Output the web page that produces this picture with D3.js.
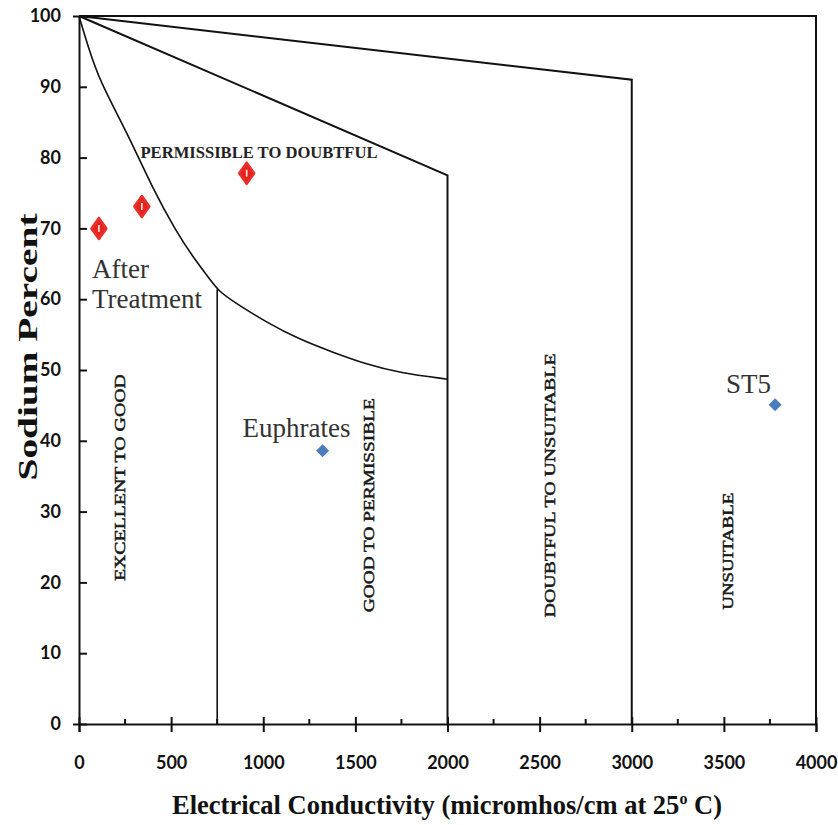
<!DOCTYPE html>
<html>
<head>
<meta charset="utf-8">
<script src="https://cdn.jsdelivr.net/npm/d3@7/dist/d3.min.js"></script>
<style>
  html, body { margin: 0; padding: 0; background: #fff; }
  svg { display: block; }
</style>
</head>
<body>
<svg id="chart" width="838" height="825"></svg>
<script>
// Axis ticks
const xTicks = [0, 500, 1000, 1500, 2000, 2500, 3000, 3500, 4000];
const xMinorTicks = [250, 750, 1250, 1750, 2250, 2750, 3250, 3750];
const yTicks = [0, 10, 20, 30, 40, 50, 60, 70, 80, 90, 100];

// Wilcox class boundaries (EC in micromhos/cm, sodium in %)
const unsuitableEC = [0, 3000, 3000];
const unsuitableNa = [100, 91, 0];
const doubtfulEC = [0, 2000, 2000];
const doubtfulNa = [100, 77.5, 0];
const permissibleEC = [0, 50, 114, 260, 400, 531, 618, 710, 764, 836, 1019, 1198, 1378, 1561, 1740, 2000];
const permissibleNa = [100, 95.6, 90.7, 83.6, 75.6, 69.4, 66.0, 62.8, 61.0, 59.7, 56.7, 54.3, 52.5, 50.8, 49.6, 48.7];
const goodEC = [750, 750];
const goodNa = [61.4, 0];

// Class names and where they sit (data units)
const zoneNames = ["EXCELLENT TO GOOD", "GOOD TO PERMISSIBLE", "DOUBTFUL TO UNSUITABLE", "UNSUITABLE"];
const zoneEC = [220, 1573, 2555, 3525];
const zoneNa = [34.8, 30.9, 33.7, 24.4];

// Samples after treatment
const treatedEC = [108, 341, 910];
const treatedNa = [70.0, 73.1, 77.8];

// Raw water sources
const sourceNames = ["Euphrates", "ST5"];
const sourceEC = [1322, 3778];
const sourceNa = [38.6, 45.1];

const svg = d3.select("#chart");
const margin = { left: 79, top: 16, right: 22, bottom: 101 };
const W = 838, H = 825;

const x = d3.scaleLinear().domain([0, 4000]).range([margin.left, W - margin.right]);
const y = d3.scaleLinear().domain([0, 100]).range([H - margin.bottom, margin.top]);

const serif = "'Liberation Serif', 'Times New Roman', serif";
const sans = "Lato, 'Open Sans', sans-serif";

// Frame: top and right edges
svg.append("path")
  .attr("d", `M${x(0)},${y(100)}H${x(4000)}V${y(0)}`)
  .attr("fill", "none").attr("stroke", "#111").attr("stroke-width", 2);

// Boundaries
const zip = (a, b) => a.map((v, i) => [v, b[i]]);
const straight = d3.line().x(d => x(d[0])).y(d => y(d[1]));
const smooth = d3.line().x(d => x(d[0])).y(d => y(d[1])).curve(d3.curveBasis);

svg.append("path").datum(zip(unsuitableEC, unsuitableNa))
  .attr("d", straight).attr("fill", "none").attr("stroke", "#111").attr("stroke-width", 2);
svg.append("path").datum(zip(doubtfulEC, doubtfulNa))
  .attr("d", straight).attr("fill", "none").attr("stroke", "#111").attr("stroke-width", 2);
svg.append("path").datum(zip(permissibleEC, permissibleNa))
  .attr("d", smooth).attr("fill", "none").attr("stroke", "#111").attr("stroke-width", 1.6);
svg.append("path").datum(zip(goodEC, goodNa))
  .attr("d", straight).attr("fill", "none").attr("stroke", "#111").attr("stroke-width", 1.6);

// X axis
const xAxis = svg.append("g").attr("transform", `translate(0,${y(0)})`)
  .call(d3.axisBottom(x).tickValues(xTicks).tickSize(8).tickPadding(24).tickFormat(d3.format("d")));
xAxis.select(".domain").attr("stroke", "#111").attr("stroke-width", 2);
xAxis.selectAll(".tick line").attr("y1", -7).attr("stroke", "#111").attr("stroke-width", 2);
xAxis.selectAll(".tick text").attr("font-family", sans).attr("font-weight", "bold")
  .attr("font-size", 18).attr("fill", "#111");
xAxis.selectAll(".minor").data(xMinorTicks).enter().append("line")
  .attr("x1", d => x(d)).attr("x2", d => x(d)).attr("y1", -5).attr("y2", 0)
  .attr("stroke", "#111").attr("stroke-width", 2);

// Y axis
const yAxis = svg.append("g").attr("transform", `translate(${x(0)},0)`)
  .call(d3.axisLeft(y).tickValues(yTicks).tickSize(6).tickPadding(12).tickFormat(d3.format("d")));
yAxis.select(".domain").attr("stroke", "#111").attr("stroke-width", 2);
yAxis.selectAll(".tick line").attr("x2", 8).attr("stroke", "#111").attr("stroke-width", 2);
yAxis.selectAll(".tick text").attr("font-family", sans).attr("font-weight", "bold")
  .attr("font-size", 18).attr("fill", "#111");

// Axis titles
const xt = svg.append("text")
  .attr("x", 447).attr("y", 814).attr("text-anchor", "middle")
  .attr("font-family", serif).attr("font-weight", "bold").attr("font-size", 26.5).attr("fill", "#111");
xt.append("tspan").text("Electrical Conductivity (micromhos/cm at 25");
xt.append("tspan").attr("font-size", 16).attr("dy", -10).text("o");
xt.append("tspan").attr("dy", 10).text(" C)");

svg.append("text")
  .attr("transform", "translate(37,347) rotate(-90)")
  .attr("text-anchor", "middle")
  .attr("font-family", serif).attr("font-weight", "bold").attr("font-size", 27).attr("fill", "#111")
  .attr("textLength", 267).attr("lengthAdjust", "spacingAndGlyphs")
  .text("Sodium Percent");

// Zone labels
svg.append("text")
  .attr("x", 259).attr("y", 158).attr("text-anchor", "middle")
  .attr("font-family", serif).attr("font-weight", "bold").attr("font-size", 16)
  .attr("fill", "#222").attr("textLength", 237).attr("lengthAdjust", "spacingAndGlyphs")
  .text("PERMISSIBLE TO DOUBTFUL");

const zoneLen = [207, 214, 264, 117];
svg.selectAll(".zone").data(zoneNames).enter().append("text")
  .attr("transform", (d, i) => `translate(${x(zoneEC[i]) + 5},${y(zoneNa[i])}) rotate(-90)`)
  .attr("text-anchor", "middle")
  .attr("font-family", serif).attr("font-size", 15).attr("fill", "#1a1a1a")
  .attr("stroke", "#1a1a1a").attr("stroke-width", 0.5)
  .attr("textLength", (d, i) => zoneLen[i]).attr("lengthAdjust", "spacingAndGlyphs")
  .text(d => d);

// After-treatment samples: red diamonds with a white core
const treated = svg.append("g");
treatedEC.forEach((ec, i) => {
  const cx = x(ec), cy = y(treatedNa[i]);
  treated.append("path")
    .attr("d", `M${cx},${cy - 10.5}L${cx + 7.5},${cy}L${cx},${cy + 10.5}L${cx - 7.5},${cy}Z`)
    .attr("fill", "#e5241e").attr("stroke", "#e8302a").attr("stroke-width", 2.5)
    .attr("stroke-linejoin", "round");
  treated.append("line")
    .attr("x1", cx).attr("x2", cx).attr("y1", cy - 3.5).attr("y2", cy + 3.5)
    .attr("stroke", "#ffe9e0").attr("stroke-width", 1.6);
});

svg.append("text").attr("x", 92).attr("y", 278)
  .attr("font-family", serif).attr("font-size", 27).attr("fill", "#333").text("After");
svg.append("text").attr("x", 92).attr("y", 308)
  .attr("font-family", serif).attr("font-size", 27).attr("fill", "#333").text("Treatment");

// Source waters: blue diamonds
svg.selectAll(".src").data(sourceNames).enter().append("path")
  .attr("d", (d, i) => {
    const cx = x(sourceEC[i]), cy = y(sourceNa[i]);
    return `M${cx},${cy - 6.5}L${cx + 6.5},${cy}L${cx},${cy + 6.5}L${cx - 6.5},${cy}Z`;
  })
  .attr("fill", "#4a7ebb");

const srcLabelDx = [-80, -49];
const srcLabelDy = [-14, -12];
svg.selectAll(".srcLabel").data(sourceNames).enter().append("text")
  .attr("x", (d, i) => x(sourceEC[i]) + srcLabelDx[i])
  .attr("y", (d, i) => y(sourceNa[i]) + srcLabelDy[i])
  .attr("font-family", serif).attr("font-size", 27).attr("fill", "#333")
  .text(d => d);
</script>
</body>
</html>
